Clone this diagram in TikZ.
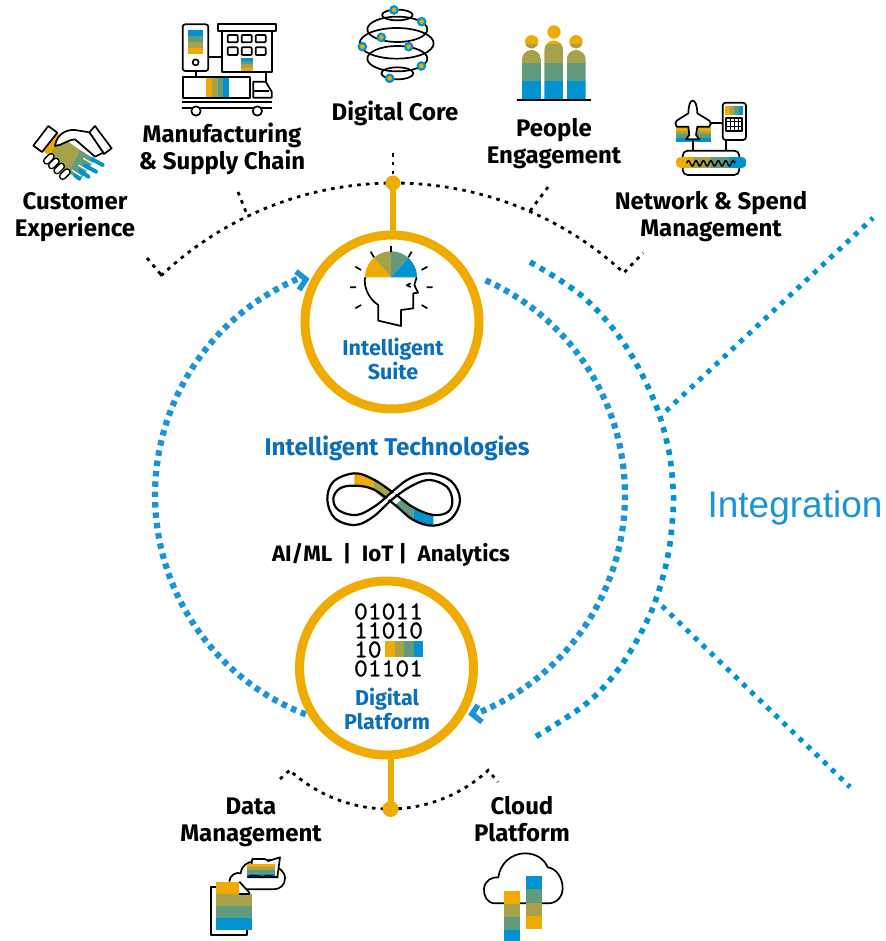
\documentclass[tikz,border=0pt]{standalone}
\usepackage{fontspec}
\setmainfont{Fira Sans}
\newfontfamily\arialfont{Liberation Sans}
\newfontfamily\binfont[FakeStretch=1.05,FakeBold=1.2]{Latin Modern Mono}
\definecolor{cga}{HTML}{F0AB00}
\definecolor{cgb}{HTML}{A7A24A}
\definecolor{cgc}{HTML}{5F9B7C}
\definecolor{cgd}{HTML}{0092D1}
\definecolor{ringblue}{HTML}{1B94D6}
\definecolor{txtblue}{HTML}{0A6EBD}
\newcommand{\hbnd}[8]{%
  \fill[#5] (#1,{#3+(#4-#3)*0/4}) rectangle (#2,{#3+(#4-#3)*1/4});
  \fill[#6] (#1,{#3+(#4-#3)*1/4}) rectangle (#2,{#3+(#4-#3)*2/4});
  \fill[#7] (#1,{#3+(#4-#3)*2/4}) rectangle (#2,{#3+(#4-#3)*3/4});
  \fill[#8] (#1,{#3+(#4-#3)*3/4}) rectangle (#2,{#3+(#4-#3)*4/4});}
\newcommand{\vbnd}[8]{%
  \fill[#5] ({#1+(#2-#1)*0/4},#3) rectangle ({#1+(#2-#1)*1/4},#4);
  \fill[#6] ({#1+(#2-#1)*1/4},#3) rectangle ({#1+(#2-#1)*2/4},#4);
  \fill[#7] ({#1+(#2-#1)*2/4},#3) rectangle ({#1+(#2-#1)*3/4},#4);
  \fill[#8] ({#1+(#2-#1)*3/4},#3) rectangle ({#1+(#2-#1)*4/4},#4);}
\newcommand{\pbody}[3]{%
  \begin{scope}
  \clip (#1,298) [rounded corners=9.5pt] -- (#1,#3) -- (#2,#3) [sharp corners] -- (#2,298) -- cycle;
  \fill[cgd] (#1,243) rectangle (#2,298);
  \fill[cgc] (#1,188) rectangle (#2,243);
  \fill[cgb] (#1,120) rectangle (#2,188);
  \fill[cga] (#1,120) rectangle (#2,132);
  \end{scope}}
\newcommand{\phead}[2]{%
  \fill[cga] (#1,#2) circle[radius=20];
  \begin{scope}
  \clip (#1,#2) circle[radius=20];
  \fill[cgb] ({#1-20},133) rectangle ({#1+20},150);
  \end{scope}}
\tikzset{
  zm/.style 2 args={shift={(#1,#2)},x=0.33333pt,y=-0.33333pt},
  lbl/.style={font=\fontsize{24}{27}\selectfont\bfseries,align=center,text=black,inner sep=0},
  bluelbl/.style={font=\fontsize{21.5}{24}\selectfont\bfseries,align=center,text=txtblue,inner sep=0},
  ringdots/.style={draw=ringblue,line width=6.2pt,dash pattern=on 5.5pt off 4.9pt},
  outerdots/.style={draw=cgd,line width=5.6pt,dash pattern=on 5.5pt off 6pt},
  linedots/.style={draw=cgd,line width=5pt,dash pattern=on 4.8pt off 6.4pt},
  blackdots/.style={draw=black,line width=2.8pt,dash pattern=on 3.6pt off 5.2pt},
  goldring/.style={circle,draw=cga,line width=9pt,minimum size=174pt,inner sep=0,outer sep=0},
  goldline/.style={draw=cga,line width=6pt},
  golddot/.style={circle,fill=cga,inner sep=0,outer sep=0},
  ico/.style={draw=black,line width=1.7pt,line join=round},
  icow/.style={draw=black,fill=white,line width=1.7pt,line join=round},
}
\begin{document}
\begin{tikzpicture}[x=1pt,y=-1pt]
\useasboundingbox (0,0) rectangle (885,941);
% blue rings
\draw[ringdots] plot[domain=111:247,samples=90,variable=\t] ({390+235*cos(\t)},{495+235*sin(\t)});
\draw[ringdots] plot[domain=-66:69,samples=90,variable=\t] ({390+235*cos(\t)},{495+235*sin(\t)});
\draw[draw=ringblue,line width=5.5pt,miter limit=10] (296,271.5) -- (306,279.5) -- (299,290);
\draw[draw=ringblue,line width=5.5pt,miter limit=10] (478,705) -- (472,714) -- (482,722);
% outer integration curve and lines
\coordinate (intup) at (666,411);
\coordinate (intdown) at (662,606);
\coordinate (intupend) at (873,218);
\coordinate (intdownend) at (850,787);
\draw[outerdots] plot[smooth,tension=0.6] coordinates {(530,262) (582,296) (623,342) (653,398) (668,447) (673,487) (673,512) (669,550) (660,587) (646,623) (620,667) (587,703) (535,737)};
\draw[linedots] (intup) -- (intupend);
\draw[linedots] (intdown) -- (intdownend);
\node[font=\arialfont\fontsize{37}{40}\selectfont,text=ringblue,inner sep=0] (integ) at (795,508) {Integration};
% top black arc
\draw[blackdots] (147,258) -- (163,277) -- plot[domain=226.7:312.7,samples=80,variable=\t] ({394+339*cos(\t)},{522+339*sin(\t)}) -- (643,253);
\coordinate (tl1) at (238,192); \coordinate (tl2) at (248,217);
\coordinate (tr1) at (548,187); \coordinate (tr2) at (530,211);
\coordinate (tc1) at (393,153);
\draw[blackdots] (tl1) -- (tl2);
\draw[blackdots] (tr1) -- (tr2);
% bottom black arc
\draw[blackdots] (280,779) -- (290,770) -- plot[domain=132.6:47.4,samples=50,variable=\t] ({389+146.5*cos(\t)},{662.5+146.5*sin(\t)}) -- (498,782);
% gold circles
\node[goldring] (suite) at (392,322) {};
\node[goldring] (platform) at (386.5,668) {};
\node[golddot,minimum size=15pt] (topdot) at (393,183) {};
\node[golddot,minimum size=16pt] (botdot) at (390.5,809) {};
\draw[goldline] (topdot.center) -- (topdot.center |- suite.north);
\draw[goldline] (botdot.center |- platform.south) -- (botdot.center);
\draw[blackdots] (tc1) -- (topdot);
% labels
\node[lbl] (cust) at (75,217) {Customer\\Experience};
\node[lbl] (manu) at (222,149) {Manufacturing\\\& Supply Chain};
\node[lbl] (core) at (395,113) {Digital Core};
\node[lbl] (people) at (554,144) {People\\Engagement};
\node[lbl] (net) at (711,217) {Network \& Spend\\Management};
\node[lbl] (data) at (251,822) {Data\\Management};
\node[lbl] (cloud) at (522,819.5) {Cloud\\Platform};
\node[bluelbl] (suitetxt) at (393,359) {Intelligent\\Suite};
\node[bluelbl] (plattxt) at (387,709) {Digital\\Platform};
\node[lbl,font=\fontsize{24.2}{26}\selectfont\bfseries,text=txtblue] (tech) at (397,448) {Intelligent Technologies};
\node[lbl,font=\fontsize{22.3}{24}\selectfont\bfseries] (ai) at (391,555) {AI/ML \ | \ IoT | \ Analytics};
% handshake
\begin{scope}[zm={0}{0}]
  \fill[cga] (165,395) -- (185,412) -- (150,467) -- (122,450) -- cycle;
  \fill[cgb] (183,410) -- (240,450) -- (205,518) -- (148,465) -- cycle;
  \fill[cgc] (240,450) -- (285,478) -- (240,540) -- (205,518) -- cycle;
  \draw[cgd,line width=4pt,line cap=round] (275,477) -- (308,495) (255,497) -- (288,515) (240,512) -- (265,530) (226,527) -- (238,536);
  \draw[white,line width=1.2pt] (250,475) -- (278,491) (235,495) -- (262,511) (215,510) -- (243,528);
  \draw[icow] (145,378) -- (172,398) -- (126,456) -- (100,437) -- cycle;
  \draw[icow] (285,378) -- (335,445) -- (312,462) -- (268,397) -- cycle;
  \draw[icow] (165,438) .. controls (170,405) and (195,388) .. (225,390) -- (268,397) -- (310,458) -- (285,470) -- (225,418) .. controls (205,418) and (185,437) .. (165,438) -- cycle;
  \foreach \a/\b in {147/476,162/490,178/505,195/522}{
    \draw[black,line width=7.5pt,line cap=round] ({\a-7},{\b+7}) -- ({\a+6},{\b-6});
    \draw[white,line width=4.4pt,line cap=round] ({\a-7},{\b+7}) -- ({\a+6},{\b-6});}
\end{scope}
% manufacturing
\begin{scope}[zm={0}{0}]
  \draw[ico] (587,213) -- (587,232) (625,170) -- (667,170) (797,215) -- (797,245);
  \draw[icow,rounded corners=2.5pt] (548,73) rectangle (625,213);
  \hbnd{563}{610}{90}{163}{cgd}{cgc}{cgb}{cga}
  \draw[ico] (587,187) circle[radius=9];
  \draw[icow] (667,93) rectangle (815,215);
  \draw[icow] (655,73) rectangle (827,93);
  \foreach \x in {683,725,767}{\draw[ico,rounded corners=.8pt] (\x,105) rectangle +(30,22); \draw[ico,rounded corners=.8pt] (\x,142) rectangle +(30,23);}
  \hbnd{723}{758}{175}{212}{cgd}{cgc}{cgb}{cga}
  \draw[icow] (548,232) rectangle (750,293);
  \vbnd{617}{688}{235}{290}{cga}{cgb}{cgc}{cgd}
  \draw[icow] (760,245) -- (797,245) -- (815,275) -- (815,293) -- (760,293) -- cycle;
  \draw[ico] (760,272) -- (808,272);
  \draw[ico] (545,307) -- (815,307) (545,323) -- (815,323);
  \draw[icow] (588,333) circle[radius=14];
  \draw[icow] (772,333) circle[radius=14];
\end{scope}
% digital core
\begin{scope}[zm={320}{0}]
  \draw[ico] (232,45) ellipse[x radius=46,y radius=16];
  \draw[ico] (232,88) ellipse[x radius=90,y radius=38];
  \draw[ico] (230,130) ellipse[x radius=111,y radius=46];
  \draw[ico] (232,176) ellipse[x radius=90,y radius=38];
  \draw[ico] (232,220) ellipse[x radius=48,y radius=18];
  \foreach \x/\y in {222/30,305/65,184/112,127/140,266/140,304/198,209/235}{
    \draw[draw=cgd,fill=cga,line width=2.2pt] (\x,\y) circle[radius=11];}
\end{scope}
% people
\begin{scope}[zm={320}{0}]
  \pbody{606}{663}{150}
  \pbody{673}{730}{122}
  \pbody{740}{797}{150}
  \phead{635}{125}
  \phead{702}{96}
  \phead{768}{125}
  \draw[black,line width=1.7pt] (590,300) -- (812,300);
\end{scope}
% network
\begin{scope}[zm={620}{80}]
  \hbnd{167}{273}{140}{187}{cga}{cgb}{cgc}{cgd}
  \draw[ico] (272,130) -- (308,130) (220,178) -- (220,212) (318,180) -- (318,212);
  \draw[icow] (218,62) .. controls (210,62) and (206,75) .. (205,100) -- (170,122) .. controls (165,128) and (165,134) .. (170,140) -- (205,140) -- (208,165) -- (198,178) -- (238,178) -- (228,165) -- (232,140) -- (268,140) .. controls (274,134) and (274,128) .. (268,122) -- (232,100) .. controls (231,75) and (226,62) .. (218,62) -- cycle;
  \draw[icow,rounded corners=3pt] (308,68) rectangle (378,180);
  \vbnd{315}{370}{77}{105}{cga}{cgb}{cgc}{cgd}
  \draw[ico] (318,113) rectangle (366,153);
  \draw[black,line width=1pt] (330,113) -- (330,153) (342,113) -- (342,153) (354,113) -- (354,153) (318,126) -- (366,126) (318,140) -- (366,140);
  \draw[icow,rounded corners=5pt] (188,212) rectangle (358,285);
  \begin{scope}
    \clip[rounded corners=5.5pt] (167,230) rectangle (380,265);
    \vbnd{167}{380}{230}{265}{cga}{cgb}{cgc}{cgd}
  \end{scope}
  \draw[black,line width=1.5pt] plot[domain=0:1,samples=90,variable=\t] ({200+145*\t},{250-8*sin(\t*360*6.5)});
\end{scope}
% head
\begin{scope}[zm={280}{230}]
  \fill[cga] (333,142) -- plot[domain=180:130,samples=14,variable=\t] ({333+78*cos(\t)},{142-78*sin(\t)}) -- cycle;
  \fill[cgb] (333,142) -- plot[domain=130:90,samples=14,variable=\t] ({333+78*cos(\t)},{142-78*sin(\t)}) -- cycle;
  \fill[cgc] (333,142) -- plot[domain=90:48,samples=14,variable=\t] ({333+78*cos(\t)},{142-78*sin(\t)}) -- cycle;
  \fill[cgd] (333,142) -- plot[domain=48:0,samples=14,variable=\t] ({333+78*cos(\t)},{142-78*sin(\t)}) -- cycle;
  \draw[ico] (255,142) .. controls (250,175) and (270,210) .. (295,225) -- (295,272) -- (363,288) -- (363,240) -- (400,235) -- (400,190) -- (414,188) -- (403,165) -- (410,142);
  \draw[ico] (392,160) -- (380,166) -- (392,171);
  \draw[ico] (333,48) -- (333,66) (272,65) -- (282,82) (395,65) -- (385,82) (226,110) -- (243,120) (442,110) -- (425,120) (210,172) -- (228,172) (440,172) -- (458,172) (226,235) -- (243,225) (442,235) -- (425,225);
\end{scope}
% infinity
\begin{scope}[zm={260}{430}]
  \fill[cga] (283,130) -- (340,148) -- (340,178) -- (283,167) -- cycle;
  \fill[cgb] (340,148) -- (375,168) -- (402,188) -- (370,207) -- (340,178) -- cycle;
  \fill[cgc] (405,225) -- (430,205) -- (460,232) -- (460,270) -- cycle;
  \fill[cgd] (460,232) -- (490,247) -- (520,255) -- (520,287) -- (490,282) -- (460,270) -- cycle;
  \draw[black,line width=2.2pt] plot[smooth cycle,tension=0.6] coordinates {(283,130) (340,148) (400,188) (460,232) (520,255) (565,245) (577,210) (560,170) (510,150) (460,165) (400,205) (340,260) (285,285) (225,265) (202,210) (220,155)};
  \draw[black,line width=2.2pt] plot[smooth cycle,tension=0.6] coordinates {(283,167) (340,178) (405,225) (460,270) (520,287) (575,265) (600,210) (575,155) (510,130) (450,145) (400,182) (350,225) (290,255) (235,240) (220,205) (240,175)};
  \fill[white] (445,153) -- (400,189) -- (355,228) -- (345,245) -- (400,198) -- (450,162) -- cycle;
\end{scope}
% binary
\node[font=\binfont\fontsize{25.5}{19}\selectfont,align=left,inner sep=0,anchor=center] (bin) at (388.5,640) {01011\\11010\\10\\01101};
\begin{scope}[zm={280}{570}]
  \vbnd{315}{430}{212}{260}{cga}{cgb}{cgc}{cgd}
\end{scope}
% data management icon
\begin{scope}[zm={170}{760}]
  \draw[ico] (137,380) -- (123,380) -- (123,525) -- (230,525) -- (230,510);
  \draw[icow] (178,365) .. controls (178,345) and (200,335) .. (212,340) .. controls (215,315) and (235,305) .. (250,305) -- (300,300) .. controls (320,325) and (345,330) .. (345,355) .. controls (345,375) and (330,388) .. (310,388) -- (228,388);
  \fill[cgb] (137,402) rectangle (245,438);
  \fill[cgc] (137,438) rectangle (245,474);
  \fill[cgd] (137,474) rectangle (245,510);
  \fill[cga] (137,365) rectangle (208,402);
  \draw[ico] (208,365) -- (240,400);
  \draw[ico] (208,402) -- (240,402);
  \draw[icow] (245,310) -- (247,297) -- (285,297) -- (295,303) -- (330,292) -- (322,352) -- (235,352) -- cycle;
  \hbnd{232}{316}{312}{350}{cga}{cgb}{cgc}{cgd}
  \draw[ico] (232,352) .. controls (250,340) and (270,352) .. (280,350) .. controls (295,342) and (310,352) .. (325,352);
\end{scope}
% cloud icon
\begin{scope}[zm={170}{760}]
  \draw[icow] (1003,430) -- (975,430) .. controls (950,430) and (940,405) .. (942,385) .. controls (945,362) and (965,350) .. (985,352) .. controls (990,310) and (1025,280) .. (1065,280) .. controls (1100,280) and (1125,300) .. (1133,322) .. controls (1160,325) and (1178,355) .. (1178,385) .. controls (1178,410) and (1160,430) .. (1135,430) -- cycle;
  \fill[cga] (1002,392) rectangle (1050,432);
  \fill[cgb] (1002,432) rectangle (1050,470);
  \fill[cgc] (1002,470) rectangle (1050,510);
  \fill[cgd] (1002,510) rectangle (1050,543);
  \hbnd{1068}{1116}{348}{508}{cgd}{cgc}{cgb}{cga}
\end{scope}
\end{tikzpicture}
\end{document}
